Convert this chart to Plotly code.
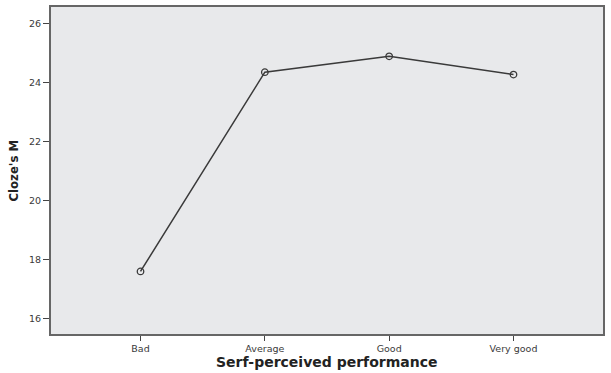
import plotly.graph_objects as go

categories = ["Bad", "Average", "Good", "Very good"]
means = [17.6, 24.35, 24.89, 24.27]
y_ticks = [16, 18, 20, 22, 24, 26]
x_title = "Serf-perceived performance"
y_title = "Cloze's M"

fig = go.Figure()
fig.add_trace(go.Scatter(
    x=categories, y=means, mode="lines+markers",
    line=dict(color="#3a3a3a", width=1.5),
    marker=dict(symbol="circle-open", size=6.5, color="#3a3a3a", line=dict(width=1.3)),
    showlegend=False, cliponaxis=False,
))

fig.update_layout(
    width=611, height=373,
    margin=dict(l=51, r=8, t=7, b=39, autoexpand=False),
    paper_bgcolor="white",
    plot_bgcolor="#e8e9eb",
    font=dict(family="DejaVu Sans", color="#333333"),
)
fig.update_xaxes(
    type="category", range=[-0.72, 3.72], automargin=False,
    showgrid=False, zeroline=False,
    showline=True, linecolor="#666666", linewidth=2, mirror=True,
    ticks="outside", ticklen=5, tickwidth=1, tickcolor="#444444",
    tickfont=dict(size=9.5, color="#3a3a3a"),
)
fig.update_yaxes(
    range=[15.48, 26.56], tickvals=y_ticks, automargin=False,
    showgrid=False, zeroline=False,
    showline=True, linecolor="#666666", linewidth=2, mirror=True,
    ticks="outside", ticklen=6, tickwidth=1, tickcolor="#444444",
    tickfont=dict(size=9.5, color="#3a3a3a"),
)
fig.add_annotation(
    text=x_title, xref="paper", yref="paper", x=0.5, y=-0.0856,
    xanchor="center", yanchor="middle", showarrow=False,
    font=dict(size=14, family="DejaVu Sans", weight="bold", color="#222222"),
)
fig.add_annotation(
    text=y_title, xref="paper", yref="paper", x=-0.0688, y=0.5, textangle=-90,
    xanchor="center", yanchor="middle", showarrow=False,
    font=dict(size=13, family="DejaVu Sans Condensed", weight="bold", color="#222222"),
)

fig.write_html("out.html", config={"displayModeBar": False},
               post_script="document.body.style.margin='0';")
